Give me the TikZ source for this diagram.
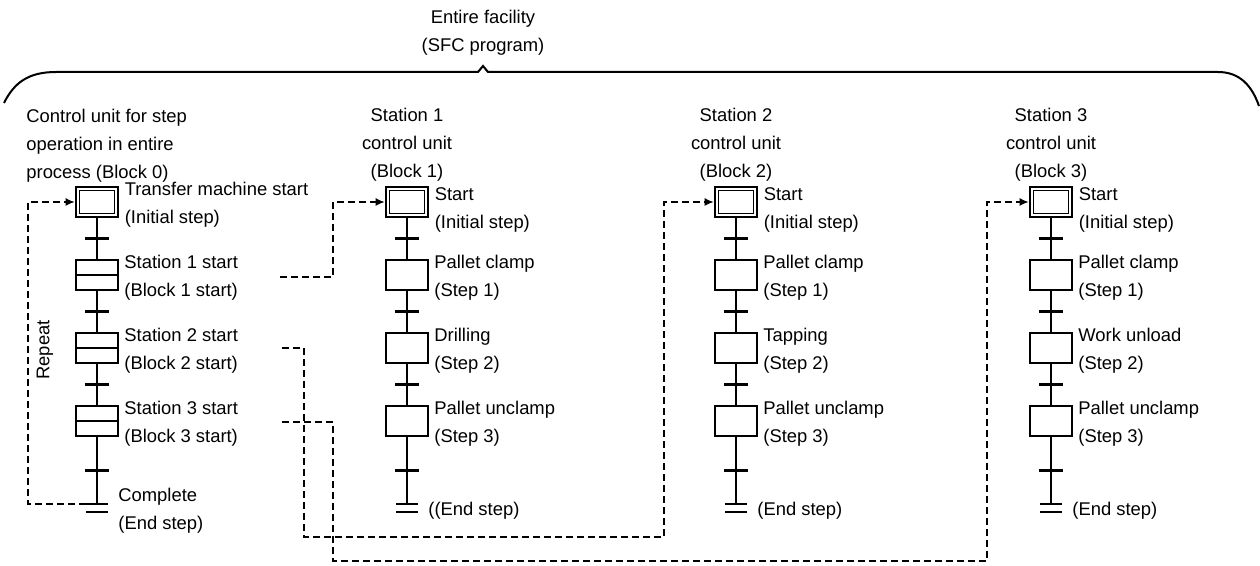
\documentclass[tikz,border=0pt]{standalone}
\usepackage{fontspec}
\setmainfont{Liberation Sans}
\usetikzlibrary{positioning,arrows.meta}

\tikzset{
  every node/.style={font=\fontsize{9.2}{14}\selectfont},
  sfcstep/.style={draw, line width=1pt, minimum width=21pt, minimum height=15pt, inner sep=0pt},
  macrostep/.style={sfcstep, path picture={\draw[line width=1pt] (path picture bounding box.west) -- (path picture bounding box.east);}},
  initstep/.style={sfcstep, line width=1.4pt, path picture={\draw[line width=0.5pt] ([shift={(1.6pt,-1.6pt)}]path picture bounding box.north west) rectangle ([shift={(-1.6pt,1.6pt)}]path picture bounding box.south east);}},
  endstep/.style={minimum width=11pt, minimum height=4pt, inner sep=0pt, outer sep=0pt},
  trans/.style={fill, minimum width=12pt, minimum height=1.2pt, inner sep=0pt, outer sep=0pt},
  flow/.style={line width=1pt},
  link/.style={line width=0.6pt, dash pattern=on 3.5pt off 2pt, -{Latex[length=4.5pt,width=4pt]}},
  lbl/.style={align=left, inner sep=0pt, yshift=-1.5pt},
  hdr/.style={align=center, inner sep=0pt},
}

\begin{document}
\begin{tikzpicture}[x=0.5pt, y=-0.5pt]
\useasboundingbox (0,0) rectangle (1260,566);

% entire facility
\node[hdr] (title) at (483,33) {Entire facility\\(SFC program)};
\draw[line width=1pt] (4,103) .. controls (14,83) and (28,72) .. (56,72) -- (478,72) -- (483,66) -- (488,72) -- (1218,72) .. controls (1240,72) and (1252,86) .. (1259,106);

% Block 0
\node[hdr, align=left, anchor=south west] (h0) at (26,183) {Control unit for step\\operation in entire\\process (Block 0)};
\node[initstep] (i0) at (97,202) {};
\node[macrostep] (s01) at (97,275) {};
\node[macrostep] (s02) at (97,348) {};
\node[macrostep] (s03) at (97,421) {};
\node[endstep] (e0) at (97,508) {};
\node[lbl, right=2.5pt of i0] (l00) {Transfer machine start\\(Initial step)};
\node[lbl, right=2.5pt of s01] (l01) {Station 1 start\\(Block 1 start)};
\node[lbl, right=2.5pt of s02] (l02) {Station 2 start\\(Block 2 start)};
\node[lbl, right=2.5pt of s03] (l03) {Station 3 start\\(Block 3 start)};
\node[lbl, right=5pt of e0] (le0) {Complete\\(End step)};
\node[rotate=90] (rep) at (45,350) {Repeat};

% Blocks 1 to 3
\foreach \b/\x/\task/\fin in {1/407/Drilling/{((End step)}, 2/736/Tapping/{(End step)}, 3/1051/Work unload/{(End step)}} {
  \node[initstep] (i\b) at (\x,202) {};
  \node[sfcstep] (s\b1) at (\x,275) {};
  \node[sfcstep] (s\b2) at (\x,348) {};
  \node[sfcstep] (s\b3) at (\x,421) {};
  \node[endstep] (e\b) at (\x,508) {};
  \node[hdr, above=2pt of i\b] (h\b) {Station \b\\control unit\\(Block \b)};
  \node[lbl, right=2.5pt of i\b, yshift=-2.5pt] (l\b0) {Start\\(Initial step)};
  \node[lbl, right=2.5pt of s\b1] (l\b1) {Pallet clamp\\(Step 1)};
  \node[lbl, right=2.5pt of s\b2] (l\b2) {\task\\(Step 2)};
  \node[lbl, right=2.5pt of s\b3] (l\b3) {Pallet unclamp\\(Step 3)};
  \node[lbl, right=5pt of e\b] (le\b) {\fin};
}

% step chains
\foreach \b in {0,...,3} {
  \draw[flow] (i\b) -- node[trans] {} (s\b1) -- node[trans] {} (s\b2) -- node[trans] {} (s\b3) -- node[trans] {} (e\b.north);
  \draw[line width=1pt] (e\b.north west) -- (e\b.north east) (e\b.south west) -- (e\b.south east);
}

% block starts
\coordinate (o1) at (280,277);
\coordinate (o2) at (282,348);
\coordinate (o3) at (282,422);
\draw[link] (e0.north west) -- ++(-58,0) |- (i0.west);
\draw[link] (o1) -- ++(53,0) |- (i1.west);
\draw[link] (o2) -- ++(22,0) |- (664,537) |- (i2.west);
\draw[link] (o3) -- ++(51,0) |- (987,561) |- (i3.west);
\end{tikzpicture}
\end{document}
